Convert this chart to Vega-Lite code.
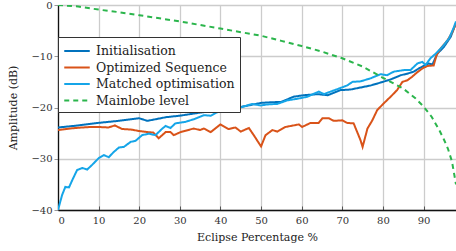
{
  "$schema": "https://vega.github.io/schema/vega-lite/v6.json",
  "autosize": "none",
  "width": 398,
  "height": 205,
  "padding": {"left": 58, "top": 5, "right": 0, "bottom": 41},
  "background": "white",
  "config": {
    "font": "DejaVu Serif",
    "view": {"stroke": null},
    "axis": {
      "labelFont": "DejaVu Serif",
      "titleFont": "DejaVu Serif",
      "labelFontSize": 10,
      "titleFontSize": 11,
      "titleFontWeight": "normal",
      "labelColor": "#333",
      "titleColor": "#222",
      "gridColor": "#cccccc",
      "gridWidth": 1.3,
      "domainColor": "#111",
      "domainWidth": 1.3,
      "tickColor": "#999"
    }
  },
  "data": {
    "values": [
      {"s": "Initialisation", "x": 0, "y": -23.9},
      {"s": "Initialisation", "x": 5, "y": -23.5},
      {"s": "Initialisation", "x": 10, "y": -23.0},
      {"s": "Initialisation", "x": 15, "y": -22.6},
      {"s": "Initialisation", "x": 20, "y": -22.1},
      {"s": "Initialisation", "x": 22, "y": -22.6},
      {"s": "Initialisation", "x": 24, "y": -22.3},
      {"s": "Initialisation", "x": 26.5, "y": -21.9},
      {"s": "Initialisation", "x": 30, "y": -21.6},
      {"s": "Initialisation", "x": 35, "y": -21.0},
      {"s": "Initialisation", "x": 40, "y": -20.5},
      {"s": "Initialisation", "x": 45, "y": -19.9},
      {"s": "Initialisation", "x": 50, "y": -19.1},
      {"s": "Initialisation", "x": 52, "y": -19.0},
      {"s": "Initialisation", "x": 55, "y": -18.9},
      {"s": "Initialisation", "x": 58, "y": -17.9},
      {"s": "Initialisation", "x": 60.5, "y": -17.6},
      {"s": "Initialisation", "x": 64, "y": -17.4},
      {"s": "Initialisation", "x": 66.4, "y": -17.6},
      {"s": "Initialisation", "x": 69.6, "y": -16.6},
      {"s": "Initialisation", "x": 72, "y": -16.5},
      {"s": "Initialisation", "x": 74.5, "y": -16.1},
      {"s": "Initialisation", "x": 77, "y": -15.7},
      {"s": "Initialisation", "x": 80, "y": -15.0},
      {"s": "Initialisation", "x": 82, "y": -14.5},
      {"s": "Initialisation", "x": 84.4, "y": -13.7},
      {"s": "Initialisation", "x": 86, "y": -13.4},
      {"s": "Initialisation", "x": 87.6, "y": -13.0},
      {"s": "Initialisation", "x": 88.8, "y": -12.4},
      {"s": "Initialisation", "x": 90, "y": -11.9},
      {"s": "Initialisation", "x": 91.2, "y": -11.4},
      {"s": "Initialisation", "x": 92.2, "y": -11.6},
      {"s": "Initialisation", "x": 93.4, "y": -9.5},
      {"s": "Initialisation", "x": 95, "y": -8.2},
      {"s": "Initialisation", "x": 96.7, "y": -6.2},
      {"s": "Initialisation", "x": 98, "y": -3.5},

      {"s": "Optimized Sequence", "x": 0, "y": -24.4},
      {"s": "Optimized Sequence", "x": 3, "y": -24.1},
      {"s": "Optimized Sequence", "x": 6, "y": -23.9},
      {"s": "Optimized Sequence", "x": 8, "y": -23.8},
      {"s": "Optimized Sequence", "x": 10, "y": -23.8},
      {"s": "Optimized Sequence", "x": 12.4, "y": -23.9},
      {"s": "Optimized Sequence", "x": 14, "y": -23.5},
      {"s": "Optimized Sequence", "x": 15.8, "y": -24.2},
      {"s": "Optimized Sequence", "x": 18, "y": -24.3},
      {"s": "Optimized Sequence", "x": 20, "y": -24.6},
      {"s": "Optimized Sequence", "x": 22, "y": -24.8},
      {"s": "Optimized Sequence", "x": 23.5, "y": -24.9},
      {"s": "Optimized Sequence", "x": 24.8, "y": -26.0},
      {"s": "Optimized Sequence", "x": 26.5, "y": -24.8},
      {"s": "Optimized Sequence", "x": 27.7, "y": -24.8},
      {"s": "Optimized Sequence", "x": 28.5, "y": -25.4},
      {"s": "Optimized Sequence", "x": 30.2, "y": -24.8},
      {"s": "Optimized Sequence", "x": 33.4, "y": -24.1},
      {"s": "Optimized Sequence", "x": 35, "y": -24.4},
      {"s": "Optimized Sequence", "x": 35.9, "y": -24.1},
      {"s": "Optimized Sequence", "x": 37.6, "y": -24.8},
      {"s": "Optimized Sequence", "x": 40, "y": -23.3},
      {"s": "Optimized Sequence", "x": 42, "y": -24.2},
      {"s": "Optimized Sequence", "x": 43.7, "y": -23.9},
      {"s": "Optimized Sequence", "x": 45, "y": -24.7},
      {"s": "Optimized Sequence", "x": 47, "y": -24.0},
      {"s": "Optimized Sequence", "x": 48.2, "y": -25.4},
      {"s": "Optimized Sequence", "x": 50, "y": -27.6},
      {"s": "Optimized Sequence", "x": 51.1, "y": -25.4},
      {"s": "Optimized Sequence", "x": 52.8, "y": -24.4},
      {"s": "Optimized Sequence", "x": 54, "y": -24.7},
      {"s": "Optimized Sequence", "x": 56, "y": -23.8},
      {"s": "Optimized Sequence", "x": 59.3, "y": -23.3},
      {"s": "Optimized Sequence", "x": 60.1, "y": -23.8},
      {"s": "Optimized Sequence", "x": 62.2, "y": -23.0},
      {"s": "Optimized Sequence", "x": 64.2, "y": -23.0},
      {"s": "Optimized Sequence", "x": 65.1, "y": -22.1},
      {"s": "Optimized Sequence", "x": 66.7, "y": -22.1},
      {"s": "Optimized Sequence", "x": 67.9, "y": -22.6},
      {"s": "Optimized Sequence", "x": 70, "y": -22.5},
      {"s": "Optimized Sequence", "x": 71.2, "y": -23.0},
      {"s": "Optimized Sequence", "x": 72.8, "y": -23.1},
      {"s": "Optimized Sequence", "x": 74.5, "y": -26.4},
      {"s": "Optimized Sequence", "x": 75, "y": -27.7},
      {"s": "Optimized Sequence", "x": 76.2, "y": -24.1},
      {"s": "Optimized Sequence", "x": 77.4, "y": -22.5},
      {"s": "Optimized Sequence", "x": 78.6, "y": -20.5},
      {"s": "Optimized Sequence", "x": 80.2, "y": -19.2},
      {"s": "Optimized Sequence", "x": 81.9, "y": -17.9},
      {"s": "Optimized Sequence", "x": 83.5, "y": -16.6},
      {"s": "Optimized Sequence", "x": 84.8, "y": -15.0},
      {"s": "Optimized Sequence", "x": 86, "y": -14.7},
      {"s": "Optimized Sequence", "x": 87.2, "y": -14.0},
      {"s": "Optimized Sequence", "x": 88.5, "y": -13.1},
      {"s": "Optimized Sequence", "x": 89.7, "y": -12.4},
      {"s": "Optimized Sequence", "x": 90.9, "y": -11.9},
      {"s": "Optimized Sequence", "x": 92.5, "y": -11.8},
      {"s": "Optimized Sequence", "x": 93.2, "y": -9.8},
      {"s": "Optimized Sequence", "x": 94.2, "y": -8.5},
      {"s": "Optimized Sequence", "x": 95.9, "y": -6.9},
      {"s": "Optimized Sequence", "x": 97.1, "y": -5.3},
      {"s": "Optimized Sequence", "x": 98, "y": -3.6},

      {"s": "Matched optimisation", "x": 0, "y": -40},
      {"s": "Matched optimisation", "x": 1, "y": -37.1},
      {"s": "Matched optimisation", "x": 1.8, "y": -35.5},
      {"s": "Matched optimisation", "x": 2.7, "y": -35.6},
      {"s": "Matched optimisation", "x": 3.5, "y": -34.2},
      {"s": "Matched optimisation", "x": 4.7, "y": -32.2},
      {"s": "Matched optimisation", "x": 6, "y": -31.8},
      {"s": "Matched optimisation", "x": 7.2, "y": -32.1},
      {"s": "Matched optimisation", "x": 8.4, "y": -31.2},
      {"s": "Matched optimisation", "x": 10, "y": -29.9},
      {"s": "Matched optimisation", "x": 11.3, "y": -29.3},
      {"s": "Matched optimisation", "x": 12.5, "y": -29.7},
      {"s": "Matched optimisation", "x": 13.7, "y": -28.7},
      {"s": "Matched optimisation", "x": 15, "y": -27.8},
      {"s": "Matched optimisation", "x": 16.2, "y": -27.7},
      {"s": "Matched optimisation", "x": 17.9, "y": -26.7},
      {"s": "Matched optimisation", "x": 19.1, "y": -26.5},
      {"s": "Matched optimisation", "x": 20.7, "y": -25.4},
      {"s": "Matched optimisation", "x": 22.4, "y": -25.1},
      {"s": "Matched optimisation", "x": 24, "y": -25.4},
      {"s": "Matched optimisation", "x": 25.7, "y": -24.1},
      {"s": "Matched optimisation", "x": 26.5, "y": -23.6},
      {"s": "Matched optimisation", "x": 27.7, "y": -24.0},
      {"s": "Matched optimisation", "x": 28.9, "y": -23.1},
      {"s": "Matched optimisation", "x": 31.4, "y": -22.8},
      {"s": "Matched optimisation", "x": 33.4, "y": -22.3},
      {"s": "Matched optimisation", "x": 35.9, "y": -21.5},
      {"s": "Matched optimisation", "x": 37.6, "y": -21.6},
      {"s": "Matched optimisation", "x": 39.5, "y": -20.8},
      {"s": "Matched optimisation", "x": 40.4, "y": -20.3},
      {"s": "Matched optimisation", "x": 41.7, "y": -20.5},
      {"s": "Matched optimisation", "x": 44.1, "y": -20.2},
      {"s": "Matched optimisation", "x": 46.6, "y": -19.6},
      {"s": "Matched optimisation", "x": 47.8, "y": -19.3},
      {"s": "Matched optimisation", "x": 49.9, "y": -19.6},
      {"s": "Matched optimisation", "x": 51.5, "y": -19.4},
      {"s": "Matched optimisation", "x": 54, "y": -19.3},
      {"s": "Matched optimisation", "x": 56.5, "y": -18.6},
      {"s": "Matched optimisation", "x": 58.9, "y": -18.3},
      {"s": "Matched optimisation", "x": 61.4, "y": -17.9},
      {"s": "Matched optimisation", "x": 64.2, "y": -16.9},
      {"s": "Matched optimisation", "x": 65.5, "y": -17.4},
      {"s": "Matched optimisation", "x": 67.1, "y": -16.9},
      {"s": "Matched optimisation", "x": 69.2, "y": -16.3},
      {"s": "Matched optimisation", "x": 71.2, "y": -15.7},
      {"s": "Matched optimisation", "x": 72.5, "y": -15.0},
      {"s": "Matched optimisation", "x": 74.5, "y": -14.9},
      {"s": "Matched optimisation", "x": 77, "y": -14.3},
      {"s": "Matched optimisation", "x": 79.4, "y": -13.5},
      {"s": "Matched optimisation", "x": 81, "y": -13.7},
      {"s": "Matched optimisation", "x": 82.7, "y": -13.0},
      {"s": "Matched optimisation", "x": 85.2, "y": -12.7},
      {"s": "Matched optimisation", "x": 86.8, "y": -12.7},
      {"s": "Matched optimisation", "x": 88.5, "y": -11.4},
      {"s": "Matched optimisation", "x": 89.7, "y": -11.1},
      {"s": "Matched optimisation", "x": 90.5, "y": -11.7},
      {"s": "Matched optimisation", "x": 91.7, "y": -10.4},
      {"s": "Matched optimisation", "x": 93, "y": -9.5},
      {"s": "Matched optimisation", "x": 94.6, "y": -8.2},
      {"s": "Matched optimisation", "x": 96.3, "y": -6.5},
      {"s": "Matched optimisation", "x": 97.5, "y": -4.3},
      {"s": "Matched optimisation", "x": 98, "y": -3.2},

      {"s": "Mainlobe level", "x": 0, "y": 0},
      {"s": "Mainlobe level", "x": 5, "y": -0.3},
      {"s": "Mainlobe level", "x": 10, "y": -0.9},
      {"s": "Mainlobe level", "x": 15, "y": -1.4},
      {"s": "Mainlobe level", "x": 20, "y": -2.0},
      {"s": "Mainlobe level", "x": 25, "y": -2.6},
      {"s": "Mainlobe level", "x": 30, "y": -3.2},
      {"s": "Mainlobe level", "x": 35, "y": -3.9},
      {"s": "Mainlobe level", "x": 40, "y": -4.6},
      {"s": "Mainlobe level", "x": 45, "y": -5.3},
      {"s": "Mainlobe level", "x": 50, "y": -6.0},
      {"s": "Mainlobe level", "x": 55, "y": -7.0},
      {"s": "Mainlobe level", "x": 60, "y": -8.0},
      {"s": "Mainlobe level", "x": 65, "y": -9.1},
      {"s": "Mainlobe level", "x": 70, "y": -10.4},
      {"s": "Mainlobe level", "x": 75, "y": -12.0},
      {"s": "Mainlobe level", "x": 80, "y": -14.2},
      {"s": "Mainlobe level", "x": 85, "y": -16.3},
      {"s": "Mainlobe level", "x": 88, "y": -18.2},
      {"s": "Mainlobe level", "x": 90, "y": -19.8},
      {"s": "Mainlobe level", "x": 92, "y": -21.8},
      {"s": "Mainlobe level", "x": 94, "y": -24.6},
      {"s": "Mainlobe level", "x": 95, "y": -26.2},
      {"s": "Mainlobe level", "x": 96, "y": -28.0},
      {"s": "Mainlobe level", "x": 97, "y": -30.5},
      {"s": "Mainlobe level", "x": 98, "y": -35.0}
    ]
  },
  "mark": {"type": "line", "strokeWidth": 2, "clip": true},
  "encoding": {
    "x": {
      "field": "x", "type": "quantitative",
      "scale": {"domain": [0, 98], "nice": false, "zero": false},
      "axis": {"title": "Eclipse Percentage %", "values": [0,10,20,30,40,50,60,70,80,90], "tickSize": -4, "tickColor": "#555", "labelPadding": 9, "titlePadding": 6, "grid": true}
    },
    "y": {
      "field": "y", "type": "quantitative",
      "scale": {"domain": [-40, 0], "nice": false},
      "axis": {"title": "Amplitude (dB)", "values": [-40,-30,-20,-10,0], "tickSize": 4, "labelPadding": 2, "titlePadding": 12, "grid": true}
    },
    "color": {
      "field": "s", "type": "nominal",
      "scale": {
        "domain": ["Initialisation", "Optimized Sequence", "Matched optimisation", "Mainlobe level"],
        "range": ["#0072BD", "#D95319", "#15A5E8", "#2BB54C"]
      },
      "legend": {
        "title": null,
        "orient": "none",
        "legendX": 0,
        "legendY": 32,
        "symbolType": "M-1.7,0H1.7",
        "symbolSize": 225,
        "symbolOffset": 5,
        "symbolStrokeWidth": 2.2,
        "labelFont": "DejaVu Serif",
        "labelFontSize": 12.5,
        "labelColor": "#222",
        "labelOffset": 10,
        "rowPadding": 0.5,
        "padding": 5,
        "strokeColor": "#333",
        "fillColor": "white",
        "cornerRadius": 0
      }
    },
    "strokeDash": {
      "field": "s", "type": "nominal",
      "scale": {
        "domain": ["Initialisation", "Optimized Sequence", "Matched optimisation", "Mainlobe level"],
        "range": [[1, 0], [1, 0], [1, 0], [5, 4]]
      },
      "legend": null
    },
    "order": {"field": "x", "type": "quantitative"}
  }
}
